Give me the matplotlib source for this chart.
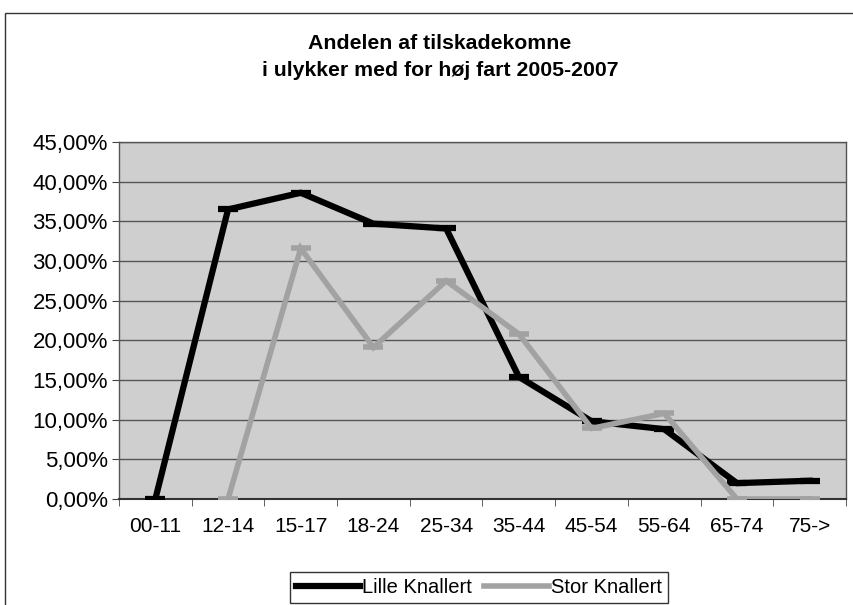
import matplotlib
matplotlib.use("Agg")
import matplotlib.pyplot as plt
import numpy as np
from matplotlib.ticker import FuncFormatter, MultipleLocator
from matplotlib.patches import Rectangle

plt.rcParams['font.family'] = ['Liberation Sans', 'DejaVu Sans']

# --- data ---
age_groups = ["00-11", "12-14", "15-17", "18-24", "25-34", "35-44", "45-54", "55-64", "65-74", "75->"]
lille = [0.0, 36.5, 38.6, 34.7, 34.1, 15.4, 9.8, 8.8, 2.0, 2.3]
stor = [np.nan, 0.0, 31.6, 19.1, 27.5, 20.8, 8.9, 10.8, 0.0, 0.0]
title = "Andelen af tilskadekomne\ni ulykker med for høj fart 2005-2007"

W, H = 854, 605
fig = plt.figure(figsize=(W / 100, H / 100), dpi=100)
fig.patch.set_facecolor("white")

# outer chart border (scanned Excel frame)
fig.patches.append(Rectangle((5 / W, -0.05), 1.2, 1 - 13 / H + 0.05, transform=fig.transFigure,
                             fill=False, edgecolor="#333333", linewidth=1.0))

ax = fig.add_axes([119 / W, (H - 499) / H, (846 - 119) / W, (499 - 142) / H])
ax.set_facecolor("#cfcfcf")

x = np.arange(len(age_groups))
ax.plot(x, lille, color="black", lw=4.5, marker="_", ms=14, mew=4.5,
        solid_joinstyle="miter", label="Lille Knallert", zorder=3)
ax.plot(x, stor, color="#a2a2a2", lw=4.0, marker="_", ms=14, mew=4.0,
        solid_joinstyle="miter", label="Stor Knallert", zorder=4)

ax.set_xlim(-0.5, len(age_groups) - 0.5)
ax.set_ylim(0, 45)
ax.yaxis.set_major_locator(MultipleLocator(5))
ax.yaxis.set_major_formatter(FuncFormatter(lambda v, p: f"{v:.2f}".replace(".", ",") + "%"))
ax.set_xticks(x)
ax.set_xticklabels(age_groups)
ax.set_xticks(np.arange(-0.5, len(age_groups), 1), minor=True)
ax.tick_params(axis="x", which="major", length=0, pad=13, labelsize=15)
ax.tick_params(axis="x", which="minor", length=5, color="#444444", direction="out")
ax.tick_params(axis="y", length=5, color="#444444", labelsize=16, pad=3)

ax.grid(axis="y", color="#555555", lw=1.0)
ax.set_axisbelow(True)
for s in ax.spines.values():
    s.set_color("#555555")
    s.set_linewidth(1.0)
ax.spines["bottom"].set_color("#333333")
ax.spines["bottom"].set_linewidth(1.5)

fig.text(440 / W, 1 - 57 / H, title, ha="center", va="center", fontsize=15.3,
         fontweight="bold", linespacing=1.55)

leg = fig.legend(loc="upper left", bbox_to_anchor=(290 / W, 1 - 572 / H), ncol=2,
                 frameon=True, fancybox=False, edgecolor="black", fontsize=14.5,
                 handlelength=3.2, handletextpad=0.1, columnspacing=0.6,
                 borderpad=0.3, borderaxespad=0)
leg.get_frame().set_linewidth(1.0)
for h in leg.legend_handles:
    h.set_marker("")

fig.savefig("out.png", dpi=100)
